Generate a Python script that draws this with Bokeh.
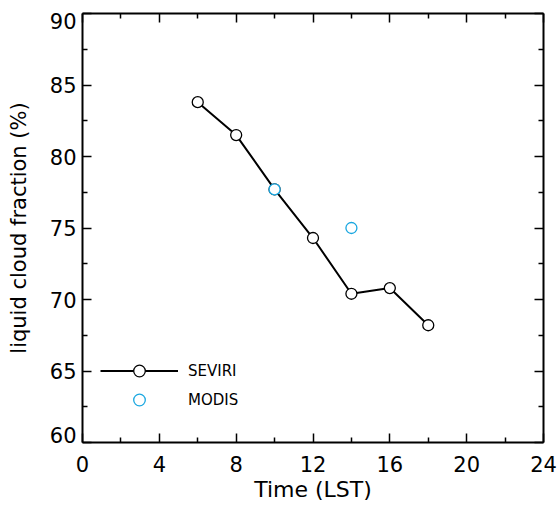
from bokeh.plotting import figure
from bokeh.models import (Range1d, FixedTicker, LinearAxis, Legend, LegendItem,
                          CustomLabelingPolicy)
from bokeh.embed import file_html
from bokeh.resources import INLINE

# ---- data ----
seviri_time = [6, 8, 10, 12, 14, 16, 18]
seviri_frac = [83.8, 81.5, 77.7, 74.3, 70.4, 70.8, 68.2]
modis_time = [10, 14]
modis_frac = [77.7, 75.0]

x_ticks = [0, 4, 8, 12, 16, 20, 24]
x_minor = [2, 6, 10, 14, 18, 22]
y_ticks = [60, 65, 70, 75, 80, 85, 90]
y_minor = [62.5, 67.5, 72.5, 77.5, 82.5, 87.5]
y_tick_labels = ["60", "65", "70", "75", "80", "85", "90"]

FONT = "DejaVu Sans"
BLUE = "#1aa7e0"

p = figure(width=559, height=508, output_backend="svg", toolbar_location=None,
           x_range=Range1d(0, 24), y_range=Range1d(60, 90),
           min_border_left=82, min_border_right=16, min_border_top=13,
           min_border_bottom=66, x_axis_label="Time (LST)")
p.xgrid.visible = False
p.ygrid.visible = False
p.outline_line_color = None
p.background_fill_color = "white"
p.border_fill_color = "white"

hide_all = CustomLabelingPolicy(
    code="const a = [...indices]; for (const i of a) indices.unset(i); return indices")


def style_axis(ax, ticks, minor, show_labels):
    ax.ticker = FixedTicker(ticks=ticks, minor_ticks=minor)
    ax.axis_line_width = 2
    ax.axis_line_color = "black"
    ax.major_tick_in = 9
    ax.major_tick_out = 0
    ax.minor_tick_in = 5
    ax.minor_tick_out = 0
    ax.major_tick_line_width = 1.5
    ax.minor_tick_line_width = 1.5
    ax.major_tick_line_color = "black"
    ax.minor_tick_line_color = "black"
    if show_labels:
        ax.major_label_text_font = FONT
        ax.major_label_text_font_size = "21px"
        ax.major_label_text_color = "black"
    else:
        ax.major_label_text_font_size = "0px"
        ax.major_label_standoff = 0
        ax.major_label_policy = hide_all


# bottom axis
style_axis(p.xaxis[0], x_ticks, x_minor, True)
p.xaxis[0].major_label_standoff = 13
p.xaxis[0].axis_label_text_font = FONT
p.xaxis[0].axis_label_text_font_size = "22px"
p.xaxis[0].axis_label_text_font_style = "normal"
p.xaxis[0].axis_label_text_color = "black"
p.xaxis[0].axis_label_standoff = 2

# left axis: ticks only
style_axis(p.yaxis[0], y_ticks, y_minor, False)

# left labels: first/last label kept inside the frame height, as in the original
label_pos = [y_ticks[0] + 0.5] + y_ticks[1:-1] + [y_ticks[-1] - 0.5]
ylab = LinearAxis(ticker=FixedTicker(ticks=label_pos, minor_ticks=[]),
                  major_label_overrides={v: t for v, t in zip(label_pos, y_tick_labels)},
                  axis_line_color=None, major_tick_line_color=None,
                  minor_tick_line_color=None, major_tick_in=0, major_tick_out=0,
                  major_label_standoff=6, major_label_text_font=FONT,
                  major_label_text_font_size="21px", major_label_text_color="black",
                  axis_label="liquid cloud fraction (%)", axis_label_text_font=FONT,
                  axis_label_text_font_size="21px", axis_label_text_font_style="normal",
                  axis_label_text_color="black", axis_label_standoff=16)
p.add_layout(ylab, "left")

top = LinearAxis()
style_axis(top, x_ticks, x_minor, False)
p.add_layout(top, "above")
right = LinearAxis()
style_axis(right, y_ticks, y_minor, False)
p.add_layout(right, "right")

line_r = p.line(seviri_time, seviri_frac, line_color="black", line_width=2)
sev_r = p.scatter(seviri_time, seviri_frac, marker="circle", size=11,
                  line_color="black", line_width=1.3, fill_color="white")
mod_r = p.scatter(modis_time, modis_frac, marker="circle", size=11,
                  line_color=BLUE, line_width=1.3, fill_color="white")

legend = Legend(items=[LegendItem(label="SEVIRI", renderers=[line_r, sev_r]),
                       LegendItem(label="MODIS", renderers=[mod_r])],
                location=(18, 28), glyph_width=78, glyph_height=29,
                label_height=29, label_standoff=10, spacing=0, padding=0,
                margin=0, border_line_color=None, background_fill_alpha=0,
                label_text_font=FONT, label_text_font_size="15px",
                label_text_line_height=1.7, label_text_color="black")
p.add_layout(legend)

open("out.html", "w").write(file_html(p, INLINE))
